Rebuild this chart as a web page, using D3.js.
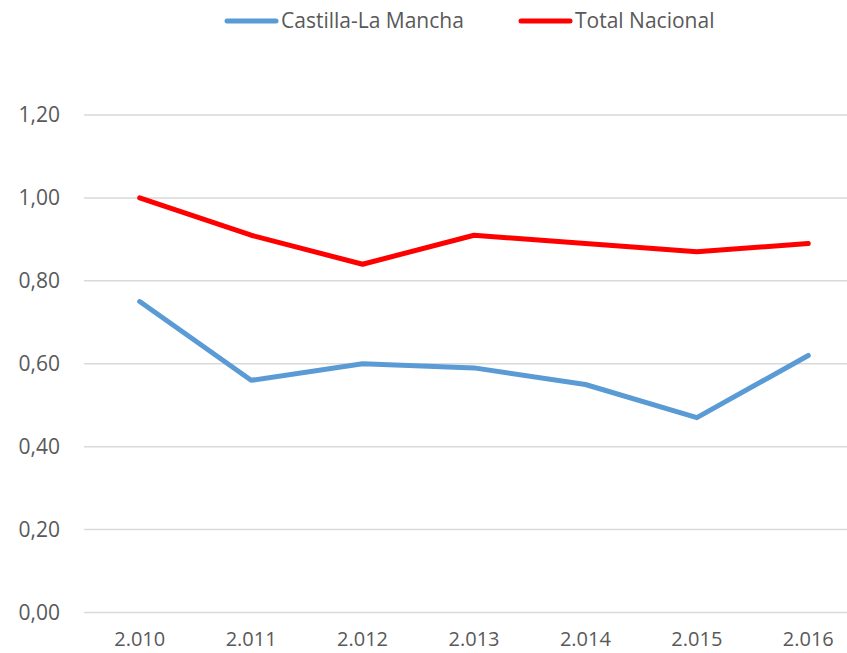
<!DOCTYPE html>
<html>
<head>
<meta charset="utf-8">
<script src="https://cdn.jsdelivr.net/npm/d3@7"></script>
<style>
  body { margin: 0; background: #fff; }
  svg { display: block; font-family: "Open Sans", sans-serif; }
</style>
</head>
<body>
<svg id="chart" width="847" height="653"></svg>
<script>
// data
const years = ['2.010', '2.011', '2.012', '2.013', '2.014', '2.015', '2.016']
const castilla = [0.75, 0.56, 0.60, 0.59, 0.55, 0.47, 0.62]
const nacional = [1.00, 0.91, 0.84, 0.91, 0.89, 0.87, 0.89]
const yTicks = [0, 0.2, 0.4, 0.6, 0.8, 1.0, 1.2]
const seriesNames = ['Castilla-La Mancha', 'Total Nacional']
const seriesColors = ['#5b9bd5', '#ff0000']

const svg = d3.select('#chart')
const margin = { left: 84, right: -17, top: 115, bottom: 40 }
const width = 847, height = 653
const fontSize = '21px'

// x : one band per year, lines go through band centres
const x = d3.scaleBand()
  .domain(years)
  .range([margin.left, width - margin.right])

const y = d3.scaleLinear()
  .domain([0, 1.2])
  .range([612.5, margin.top])

const fmt = d => d.toFixed(2).replace('.', ',')

// gridlines
svg.append('g')
  .selectAll('line')
  .data(yTicks)
  .join('line')
  .attr('x1', margin.left)
  .attr('x2', width - margin.right)
  .attr('y1', d => y(d))
  .attr('y2', d => y(d))
  .attr('stroke', '#d9d9d9')
  .attr('stroke-width', 1.5)

// y labels
svg.append('g')
  .selectAll('text')
  .data(yTicks)
  .join('text')
  .attr('x', 60)
  .attr('y', d => y(d))
  .attr('dy', '0.35em')
  .attr('text-anchor', 'end')
  .attr('fill', '#595959')
  .style('font-size', fontSize)
  .text(fmt)

// x labels (kept a bit higher so they are not cut at the bottom edge)
svg.append('g')
  .selectAll('text')
  .data(years)
  .join('text')
  .attr('x', d => x(d) + x.bandwidth() / 2)
  .attr('y', 646)
  .attr('text-anchor', 'middle')
  .attr('fill', '#595959')
  .style('font-size', '20px')
  .text(d => d)

// series lines
const line = d3.line()
  .x((d, i) => x(years[i]) + x.bandwidth() / 2)
  .y(d => y(d))

;[castilla, nacional].forEach((values, i) => {
  svg.append('path')
    .datum(values)
    .attr('d', line)
    .attr('fill', 'none')
    .attr('stroke', seriesColors[i])
    .attr('stroke-width', 5)
    .attr('stroke-linejoin', 'round')
    .attr('stroke-linecap', 'round')
})

// legend
const legendX = [225, 519]
seriesNames.forEach((name, i) => {
  const g = svg.append('g').attr('transform', `translate(${legendX[i]},21)`)
  g.append('line')
    .attr('x1', 2).attr('x2', 51)
    .attr('stroke', seriesColors[i])
    .attr('stroke-width', 5)
    .attr('stroke-linecap', 'round')
  g.append('text')
    .attr('x', 56)
    .attr('dy', '0.35em')
    .attr('fill', '#595959')
    .style('font-size', fontSize)
    .text(name)
})
</script>
</body>
</html>
